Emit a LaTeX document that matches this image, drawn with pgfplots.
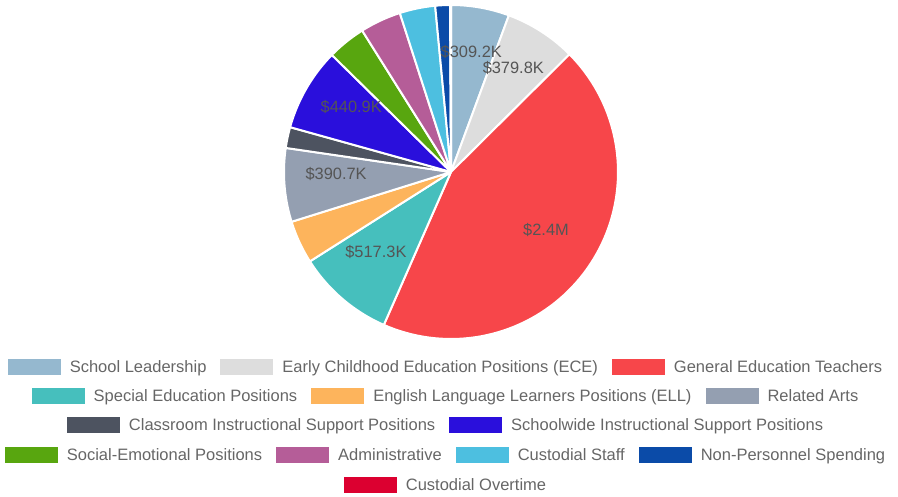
\documentclass[border=0pt]{standalone}
\usepackage{pgfplots}
\usepackage{pgfplotstable}
\pgfplotsset{compat=1.18}
\usepackage{fontspec}
\setmainfont{Liberation Sans}

\definecolor{c0}{HTML}{95B8CF}
\definecolor{c1}{HTML}{DDDDDD}
\definecolor{c2}{HTML}{F7464A}
\definecolor{c3}{HTML}{46BFBD}
\definecolor{c4}{HTML}{FDB45C}
\definecolor{c5}{HTML}{949FB1}
\definecolor{c6}{HTML}{4D5360}
\definecolor{c7}{HTML}{2A0FDC}
\definecolor{c8}{HTML}{58A60F}
\definecolor{c9}{HTML}{B55D98}
\definecolor{c10}{HTML}{4DBFE0}
\definecolor{c11}{HTML}{0B4BA8}
\definecolor{c12}{HTML}{DC0030}
\definecolor{labtext}{HTML}{555555}
\definecolor{legtext}{HTML}{666666}

% values in thousands of dollars, in drawing order (clockwise from top)
\pgfplotstableread{
v
309.2
379.8
2417
517.3
229
390.7
111
440.9
204
218
189
78
5
}\data
\pgfplotstablecreatecol[create col/expr accum={\pgfmathaccuma + \thisrow{v}}{0}]{cum}{\data}
\pgfplotstablegetelem{12}{cum}\of\data
\let\total\pgfplotsretval

\newcommand{\leg}[2]{\textcolor{#1}{\rule[-2.4pt]{53pt}{16pt}}\hspace{9pt}#2}
\newcommand{\sep}{\hspace{14pt}}

\begin{document}
\begin{tikzpicture}
\path[use as bounding box] (0pt,0pt) rectangle (898pt,-497pt);
\begin{axis}[at={(451pt,-172pt)}, anchor=center,
  width=334pt, height=334pt, scale only axis,
  xmin=-1, xmax=1, ymin=-1, ymax=1, hide axis, clip=false]
\pgfplotsinvokeforeach{0,...,12}{
  \pgfplotstablegetelem{#1}{v}\of\data
  \pgfmathsetmacro\vv{\pgfplotsretval}
  \pgfplotstablegetelem{#1}{cum}\of\data
  \pgfmathsetmacro\cc{\pgfplotsretval}
  \pgfmathsetmacro\aend{90-360*(\cc/\total)}
  \pgfmathsetmacro\astart{90-360*((\cc-\vv)/\total)}
  \edef\doplot{\noexpand\addplot[fill=c#1, draw=white, line width=2pt, line join=round,
      domain=\aend:\astart, samples=80, variable=\noexpand\t]
      ({cos(\noexpand\t)},{sin(\noexpand\t)}) -- (axis cs:0,0) -- cycle;}
  \doplot
}
\pgfplotsinvokeforeach{0,...,12}{
  \pgfplotstablegetelem{#1}{v}\of\data
  \pgfmathsetmacro\vv{\pgfplotsretval}
  \pgfplotstablegetelem{#1}{cum}\of\data
  \pgfmathsetmacro\cc{\pgfplotsretval}
  \pgfmathsetmacro\amid{90-360*((\cc-0.5*\vv)/\total)}
  \pgfmathsetmacro\lx{0.69*cos(\amid)}
  \pgfmathsetmacro\ly{0.69*sin(\amid)+0.042}
  \ifdim\vv pt>1000pt
    \pgfmathsetmacro\vm{\vv/1000}
    \edef\donode{\noexpand\node[font=\noexpand\fontsize{16.4}{18}\noexpand\selectfont, text=labtext, inner sep=0pt]
      at (axis cs:\lx,\ly) {\noexpand\$\noexpand\pgfmathprintnumber[fixed,fixed zerofill,precision=1,assume math mode=true]{\vm}M};}
    \donode
  \else
    \ifdim\vv pt>300pt
      \edef\donode{\noexpand\node[font=\noexpand\fontsize{16.4}{18}\noexpand\selectfont, text=labtext, inner sep=0pt]
        at (axis cs:\lx,\ly) {\noexpand\$\noexpand\pgfmathprintnumber[fixed,fixed zerofill,precision=1,assume math mode=true]{\vv}K};}
      \donode
    \fi
  \fi
}
\end{axis}
\begin{scope}[every node/.style={anchor=base, inner sep=0pt, text=legtext, font=\fontsize{16.5}{18}\selectfont}]
\node at (445pt,-372.8pt) {\leg{c0}{School Leadership}\sep\leg{c1}{Early Childhood Education Positions (ECE)}\sep\leg{c2}{General Education Teachers}};
\node at (445pt,-401.8pt) {\leg{c3}{Special Education Positions}\sep\leg{c4}{English Language Learners Positions (ELL)}\sep\leg{c5}{Related Arts}};
\node at (445pt,-430.8pt) {\leg{c6}{Classroom Instructional Support Positions}\sep\leg{c7}{Schoolwide Instructional Support Positions}};
\node at (445pt,-460.8pt) {\leg{c8}{Social-Emotional Positions}\sep\leg{c9}{Administrative}\sep\leg{c10}{Custodial Staff}\sep\leg{c11}{Non-Personnel Spending}};
\node at (445pt,-490.3pt) {\leg{c12}{Custodial Overtime}};
\end{scope}
\end{tikzpicture}
\end{document}
